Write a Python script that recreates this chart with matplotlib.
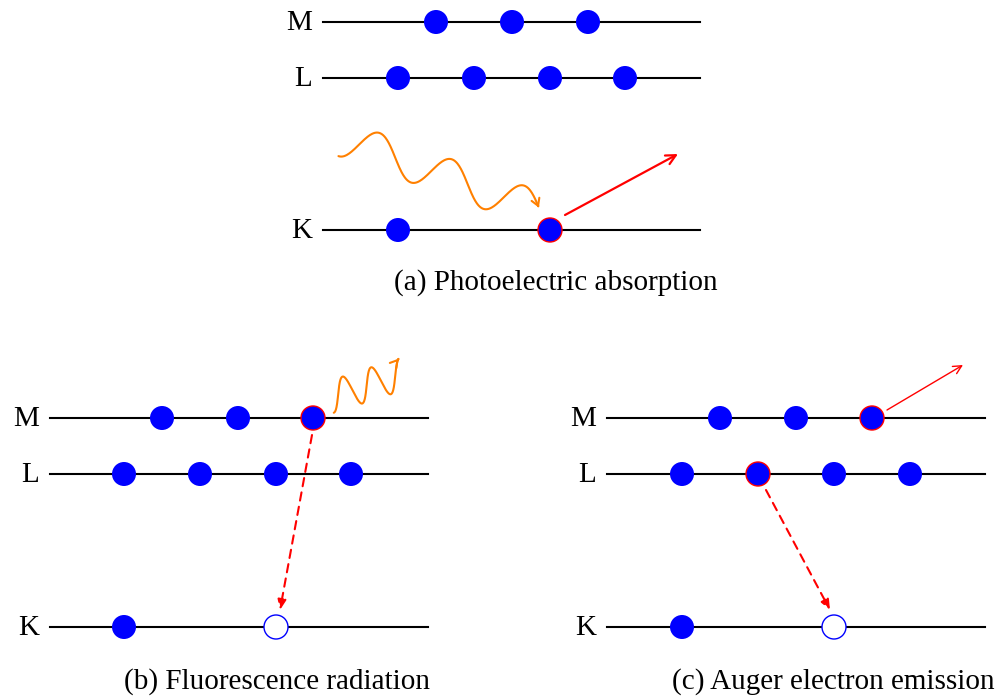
import numpy as np
import matplotlib
matplotlib.use("Agg")
import matplotlib.pyplot as plt
from matplotlib.patches import Circle, FancyArrowPatch
from matplotlib.path import Path

plt.rcParams["font.family"] = ["Liberation Serif", "DejaVu Serif"]

BLUE = "#0000ff"
RED = "#ff0000"
ORANGE = "#ff8000"

# shell names and their heights per panel (figure pixels, y downwards)
shells = ["M", "L", "K"]
levels_a = [22, 78, 230]
levels_bc = [418, 474, 627]

# panel extents: (line start, line end)
span_a = (323, 700)
span_b = (50, 428)
span_c = (607, 985)

# electron positions on each shell
elec_a = {"M": [436, 512, 588], "L": [398, 474, 550, 625], "K": [398, 550]}
elec_b = {"M": [162, 238, 313], "L": [124, 200, 276, 351], "K": [124, 276]}
elec_c = {"M": [720, 796, 872], "L": [682, 758, 834, 910], "K": [682, 834]}

# electrons that take part in the process (red edge) and vacancies (hollow)
active_a = [("K", 550)]
active_b = [("M", 313)]
hole_b = [("K", 276)]
active_c = [("M", 872), ("L", 758)]
hole_c = [("K", 834)]

captions = ["(a) Photoelectric absorption", "(b) Fluorescence radiation",
            "(c) Auger electron emission"]
caption_pos = [(556, 283), (277, 682), (833, 682)]

R = 12

fig = plt.figure(figsize=(10, 6.98), dpi=100)
ax = fig.add_axes([0, 0, 1, 1])
ax.set_xlim(0, 1000)
ax.set_ylim(698, 0)
ax.axis("off")


def draw_panel(levels, span, elec, active, holes):
    for name, y in zip(shells, levels):
        ax.plot(span, [y, y], color="black", lw=1.5, zorder=1)
        ax.text(span[0] - 11, y + 1, name, ha="right", va="center", fontsize=21)
        for x in elec[name]:
            if (name, x) in holes:
                ax.add_patch(Circle((x, y), R, fc="white", ec=BLUE, lw=1, zorder=3))
            elif (name, x) in active:
                ax.add_patch(Circle((x, y), R, fc=BLUE, ec=RED, lw=1, zorder=3))
            else:
                ax.add_patch(Circle((x, y), R, fc=BLUE, ec="none", zorder=3))


def photon(start, angle, wavelength, amp, tilt, n_waves):
    # sine wave along a straight baseline, ends with an arrow head
    th = np.radians(angle)
    al = np.radians(tilt)
    d = np.array([np.cos(th), np.sin(th)])
    nvec = np.array([np.sin(al), -np.cos(al)])
    s = np.linspace(0, n_waves * wavelength, 300)
    off = amp * np.sin(2 * np.pi * s / wavelength - np.pi / 2)
    pts = np.array(start) + np.outer(s, d) + np.outer(off, nvec)
    arr = FancyArrowPatch(path=Path(pts), arrowstyle="->,head_length=5,head_width=3",
                          color=ORANGE, lw=1.5, shrinkA=0, shrinkB=0, zorder=2)
    ax.add_patch(arr)


def arrow(p0, p1, lw=1.5, ls="-", hl=7, hw=3, head="->"):
    ax.annotate("", xy=p1, xytext=p0,
                arrowprops=dict(arrowstyle=f"{head},head_length={hl / 10},head_width={hw / 10}",
                                color=RED, lw=lw, linestyle=ls,
                                shrinkA=0, shrinkB=0), zorder=2)


draw_panel(levels_a, span_a, elec_a, active_a, [])
draw_panel(levels_bc, span_b, elec_b, active_b, hole_b)
draw_panel(levels_bc, span_c, elec_c, active_c, hole_c)

# (a) incoming photon and ejected photoelectron
photon((341, 138), 20, 77, 18.3, 8, 2.73)
arrow((565, 215), (678, 154), lw=1.6, hl=7, hw=3.5)

# (b) M -> K transition with emitted photon
arrow((312, 435), (280, 610), lw=1.5, ls=(0, (4, 3)), hl=6, hw=2.5, head="-|>")
photon((331, 397), -18, 30, 16, -10, 2.47)

# (c) L -> K transition, Auger electron leaves the M shell
arrow((766, 490), (830, 610), lw=1.5, ls=(0, (4, 3)), hl=6, hw=2.5, head="-|>")
arrow((887, 410), (963, 365), lw=1.0, hl=6, hw=3)

for txt, (x, y) in zip(captions, caption_pos):
    ax.text(x, y, txt, ha="center", va="center", fontsize=21)

fig.savefig("out.png", dpi=100)
